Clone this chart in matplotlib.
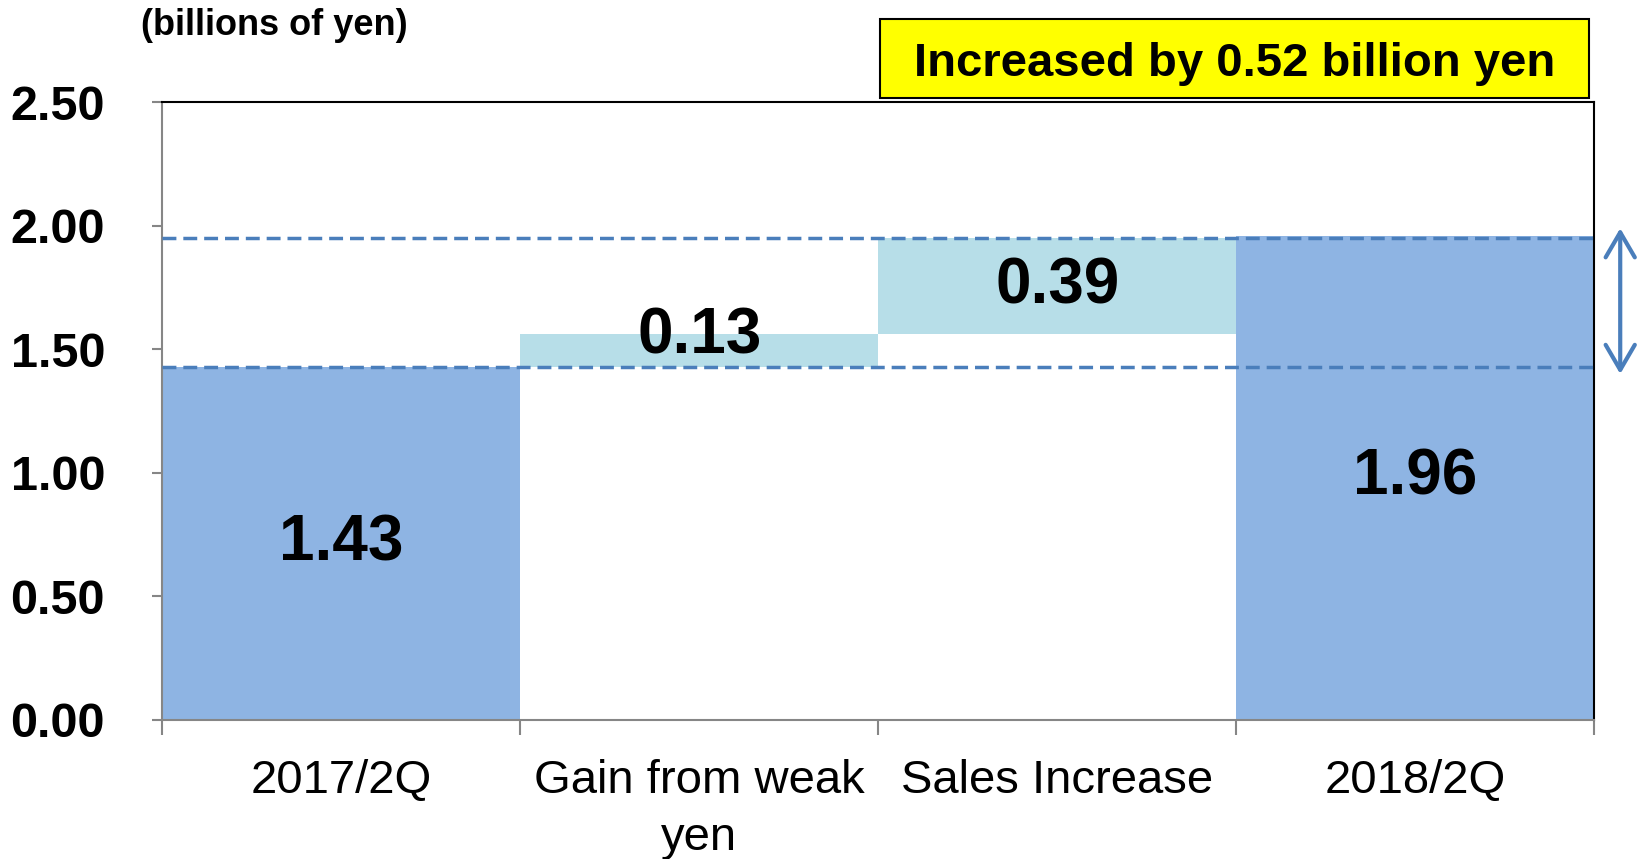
import matplotlib
matplotlib.use('Agg')
import matplotlib.pyplot as plt
from matplotlib.patches import Rectangle
import numpy as np

plt.rcParams['font.family'] = ['Liberation Sans', 'DejaVu Sans']

categories = ['2017/2Q', 'Gain from weak\nyen', 'Sales Increase', '2018/2Q']
values = [1.43, 0.13, 0.39, 1.96]
is_total = [True, False, False, True]
yticks = [0.0, 0.5, 1.0, 1.5, 2.0, 2.5]
note = 'Increased by 0.52 billion yen'
unit = '(billions of yen)'

total_color = '#8EB4E3'
step_color = '#B7DEE8'
line_color = '#4A7EBB'

# waterfall bottoms
bottoms = []
running = 0.0
for v, t in zip(values, is_total):
    if t:
        bottoms.append(0.0)
        running = v
    else:
        bottoms.append(running)
        running += v

fig = plt.figure(figsize=(16.37, 8.59), dpi=100)
ax = fig.add_axes([0.099, 0.162, 0.875, 0.719])

x = np.arange(len(categories))
colors = [total_color if t else step_color for t in is_total]
ax.bar(x, values, bottom=bottoms, width=1.0, color=colors, zorder=2)

# dashed reference lines at start and end values
ax.axhline(values[0], color=line_color, lw=2.5, ls=(0, (4, 2)), zorder=3)
ax.axhline(bottoms[2] + values[2], color=line_color, lw=2.5, ls=(0, (4, 2)), zorder=3)

# value labels
for xi, v, b in zip(x, values, bottoms):
    y = b + v / 2
    if v < 0.2:
        y = b + 0.12
    ax.text(xi, y, f'{v:.2f}', ha='center', va='center',
            fontsize=46, fontweight='bold', zorder=4)

ax.set_xlim(-0.5, len(categories) - 0.5)
ax.set_ylim(0, 2.5)
ax.set_yticks(yticks)
ax.set_yticklabels([f'{t:.2f}' for t in yticks], fontsize=35, fontweight='bold')
ax.tick_params(axis='y', length=7, width=1.5, color='#868686', pad=34)

ax.set_xticks(np.arange(len(categories) + 1) - 0.5)
ax.set_xticklabels([])
ax.tick_params(axis='x', which='major', length=11, width=1.5, color='#868686', direction='out')
ax.set_xticks(x, minor=True)
ax.set_xticklabels(categories, minor=True, fontsize=34, linespacing=1.38, va='top')
ax.tick_params(axis='x', which='minor', length=0, pad=28)

for s in ['left', 'bottom']:
    ax.spines[s].set_color('#868686')
    ax.spines[s].set_linewidth(1.5)
for s in ['top', 'right']:
    ax.spines[s].set_color('black')
    ax.spines[s].set_linewidth(1.5)

# double arrow showing the increase
ax.annotate('', xy=(1.018, values[0] - 0.03), xytext=(1.018, values[-1] + 0.03),
            xycoords=('axes fraction', 'data'), textcoords=('axes fraction', 'data'),
            arrowprops=dict(arrowstyle='<->,head_length=0.6,head_width=0.35',
                            color=line_color, lw=3, mutation_scale=30,
                            shrinkA=0, shrinkB=0),
            annotation_clip=False)

fig.text(0.086, 0.97, unit, fontsize=26, fontweight='bold', ha='left', va='center')

fig.add_artist(Rectangle((880 / 1637, 1 - 98 / 859), 709 / 1637, 79 / 859,
                         transform=fig.transFigure, facecolor='#FFFF00',
                         edgecolor='black', lw=1.5))
fig.text((880 + 1589) / 2 / 1637, 1 - 64 / 859, note, ha='center', va='center',
         fontsize=34, fontweight='bold',
         family=['Liberation Sans Narrow', 'Liberation Sans'])

fig.savefig('out.png', dpi=100)
